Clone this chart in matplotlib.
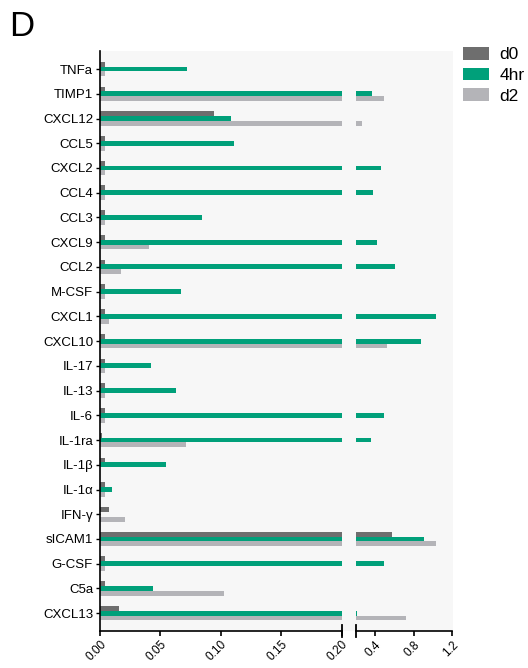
import matplotlib
matplotlib.use("Agg")
import matplotlib.pyplot as plt
import numpy as np
from matplotlib.patches import Rectangle, Patch
from matplotlib.lines import Line2D

plt.rcParams['font.family'] = ['Liberation Sans', 'DejaVu Sans']

categories = ["TNFa", "TIMP1", "CXCL12", "CCL5", "CXCL2", "CCL4", "CCL3", "CXCL9",
              "CCL2", "M-CSF", "CXCL1", "CXCL10", "IL-17", "IL-13", "IL-6", "IL-1ra",
              "IL-1β", "IL-1α", "IFN-γ", "sICAM1", "G-CSF", "C5a", "CXCL13"]
d0 = [0.004, 0.004, 0.094, 0.004, 0.004, 0.004, 0.004, 0.004, 0.004, 0.004, 0.004, 0.004,
      0.004, 0.004, 0.004, 0.002, 0.004, 0.004, 0.0075, 0.575, 0.004, 0.004, 0.0157]
h4 = [0.0724, 0.364, 0.108, 0.111, 0.458, 0.381, 0.0845, 0.418, 0.609, 0.0674, 1.028, 0.872,
      0.0423, 0.0633, 0.486, 0.353, 0.055, 0.0103, 0.0, 0.910, 0.489, 0.044, 0.207]
d2 = [0.004, 0.492, 0.266, 0.004, 0.004, 0.004, 0.004, 0.0404, 0.0177, 0.004, 0.0075, 0.517,
      0.004, 0.004, 0.004, 0.0713, 0.0, 0.004, 0.021, 1.035, 0.004, 0.103, 0.722]
series_names = ["d0", "4hr", "d2"]
colors = ["#6e6e6e", "#00a07a", "#b4b4b8"]
left_ticks = [0.00, 0.05, 0.10, 0.15, 0.20]
left_ticklabels = ["0.00", "0.05", "0.10", "0.15", "0.20"]
right_ticks = [0.4, 0.8, 1.2]
right_ticklabels = ["0.4", "0.8", "1.2"]

W, H = 528, 668
fig = plt.figure(figsize=(W / 100, H / 100), dpi=100)

def fx(p):
    return p / W

def fy(p):
    return 1 - p / H

top, bot = 51, 631
axL = fig.add_axes([fx(100), fy(bot), fx(341.7) - fx(100), fy(top) - fy(bot)])
axR = fig.add_axes([fx(356), fy(bot), fx(452.3) - fx(356), fy(top) - fy(bot)])

# background panel
bg = Rectangle((fx(100), fy(bot)), fx(452.5) - fx(100), fy(top) - fy(bot),
               transform=fig.transFigure, facecolor="#f7f7f7",
               edgecolor="none", zorder=-10)
fig.add_artist(bg)

y = np.arange(len(categories))
bh = 0.196
for ax in (axL, axR):
    ax.set_facecolor("none")
    ax.set_zorder(1)
    for i, (vals, c) in enumerate(zip([d0, h4, d2], colors)):
        ax.barh(y + (i - 1) * bh, vals, height=bh, color=c, edgecolor="none", zorder=2)
    ax.set_ylim(len(categories) - 1 + 0.72, -0.73)
    ax.spines['top'].set_visible(False)
    ax.spines['right'].set_visible(False)
    ax.spines['bottom'].set_linewidth(1.2)
    ax.spines['left'].set_linewidth(1.2)

axL.set_xlim(0, 0.2)
axR.set_xlim(0.2, 1.2)
axR.spines['left'].set_visible(False)
axR.set_yticks([])

axL.set_yticks(y)
axL.set_yticklabels(categories, fontsize=9.5)
axL.tick_params(axis='y', length=3, width=1, pad=2)

axL.set_xticks(left_ticks)
axL.set_xticklabels(left_ticklabels, fontsize=8.6, rotation=45, ha='right', rotation_mode='anchor')
axR.set_xticks(right_ticks)
axR.set_xticklabels(right_ticklabels, fontsize=8.6, rotation=45, ha='right', rotation_mode='anchor')
for ax in (axL, axR):
    ax.tick_params(axis='x', length=3.5, width=1.2, pad=2)

# break caps
for xp in (341.7, 356):
    fig.add_artist(Line2D([fx(xp), fx(xp)], [fy(625), fy(637)], transform=fig.transFigure,
                          color="black", linewidth=1.3, zorder=5))

# panel label
fig.text(fx(9), fy(10), "D", fontsize=25, va='top', ha='left')

handles = [Patch(facecolor=c, edgecolor='none') for c in colors]
fig.legend(handles, series_names, loc='upper left', bbox_to_anchor=(fx(463), fy(47)),
           frameon=False, fontsize=12.5, handlelength=1.5, handleheight=0.75,
           handletextpad=0.6, labelspacing=0.3, borderpad=0, borderaxespad=0)

fig.savefig("out.png", dpi=100)
